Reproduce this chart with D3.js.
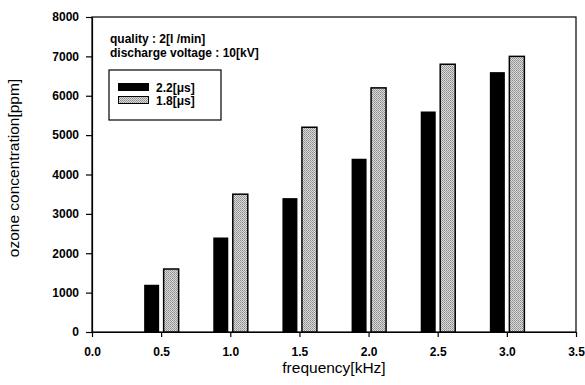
<!DOCTYPE html>
<html><head><meta charset="utf-8">
<script src="https://cdn.jsdelivr.net/npm/d3@7/dist/d3.min.js"></script>
<style>body{margin:0;background:#fff}svg{display:block}text{font-family:"Liberation Sans",Arial,sans-serif}</style>
</head><body><svg id="c" width="585" height="385"></svg>
<script>
const frequencies = [0.5, 1.0, 1.5, 2.0, 2.5, 3.0];
const series22 = [1200, 2400, 3400, 4400, 5600, 6600];
const series18 = [1600, 3500, 5200, 6200, 6800, 7000];
const seriesNames = ["2.2[\u03bcs]", "1.8[\u03bcs]"];
const xTicks = [0.0, 0.5, 1.0, 1.5, 2.0, 2.5, 3.0, 3.5];
const yTicks = [0, 1000, 2000, 3000, 4000, 5000, 6000, 7000, 8000];
const notes = ["quality : 2[l /min]", "discharge voltage : 10[kV]"];

const svg = d3.select("#c");
const m = {l: 92, r: 576, t: 17, b: 332};
const x = d3.scaleLinear().domain([0, 3.5]).range([m.l, m.r]);
const y = d3.scaleLinear().domain([0, 8000]).range([m.b, m.t]);

const defs = svg.append("defs");
const pat = defs.append("pattern").attr("id", "dots").attr("patternUnits", "userSpaceOnUse")
  .attr("width", 2).attr("height", 2);
pat.append("rect").attr("width", 2).attr("height", 2).attr("fill", "#dadada");
pat.append("rect").attr("width", 1).attr("height", 1).attr("fill", "#8c8c8c");
pat.append("rect").attr("x", 1).attr("y", 1).attr("width", 1).attr("height", 1).attr("fill", "#a0a0a0");

// frame
svg.append("rect").attr("x", m.l).attr("y", m.t).attr("width", m.r - m.l).attr("height", m.b - m.t)
  .attr("fill", "none").attr("stroke", "#000").attr("stroke-width", 1.2);

// bars
const bw = 15;
svg.append("g").selectAll("rect").data(frequencies).join("rect")
  .attr("x", d => x(d) - 2 - bw).attr("width", bw)
  .attr("y", (d, i) => y(series22[i])).attr("height", (d, i) => y(0) - y(series22[i]))
  .attr("fill", "#000");
svg.append("g").selectAll("rect").data(frequencies).join("rect")
  .attr("x", d => x(d) + 2.5).attr("width", bw)
  .attr("y", (d, i) => y(series18[i])).attr("height", (d, i) => y(0) - y(series18[i]))
  .attr("fill", "url(#dots)").attr("stroke", "#000").attr("stroke-width", 1.5);

// axes
const xa = svg.append("g").attr("transform", `translate(0,${m.b})`)
  .call(d3.axisBottom(x).tickValues(xTicks).tickFormat(d3.format(".1f")).tickSize(5).tickSizeOuter(0));
const ya = svg.append("g").attr("transform", `translate(${m.l},0)`)
  .call(d3.axisLeft(y).tickValues(yTicks).tickFormat(d3.format("d")).tickSize(6).tickSizeOuter(0));
[xa, ya].forEach(a => {
  a.select(".domain").attr("stroke", "#000").attr("stroke-width", 1.2);
  a.selectAll(".tick line").attr("stroke", "#000").attr("stroke-width", 1.2);
  a.selectAll(".tick text").attr("fill", "#000").style("font-size", "12px").style("font-weight", "bold")
   .style("font-family", "'Liberation Sans',Arial,sans-serif");
});
xa.selectAll(".tick text").attr("dy", "0").attr("y", 23.5);
ya.selectAll(".tick text").attr("x", -13);

// axis titles
svg.append("text").attr("x", x(1.75)).attr("y", 373).attr("text-anchor", "middle")
  .style("font-size", "15.5px").text("frequency[kHz]");
svg.append("text").attr("transform", "translate(19,168) rotate(-90)").attr("text-anchor", "middle")
  .style("font-size", "15.5px").text("ozone concentration[ppm]");

// notes
svg.selectAll("text.note").data(notes).join("text").attr("class", "note")
  .attr("x", 110).attr("y", (d, i) => 43 + i * 14)
  .style("font-size", "12px").style("font-weight", "bold").text(d => d);

// legend
const lg = svg.append("g");
lg.append("rect").attr("x", 109).attr("y", 70).attr("width", 112).attr("height", 50)
  .attr("fill", "#fff").attr("stroke", "#000").attr("stroke-width", 1.2);
const fills = ["#000", "url(#dots)"];
seriesNames.forEach((n, i) => {
  lg.append("rect").attr("x", 118.5).attr("y", 83.5 + i * 13).attr("width", 30).attr("height", 7)
    .attr("fill", fills[i]).attr("stroke", "#000").attr("stroke-width", 1);
  lg.append("text").attr("x", 156).attr("y", 92 + i * 13).style("font-size", "12px")
    .style("font-weight", "bold").text(n);
});
</script></body></html>
